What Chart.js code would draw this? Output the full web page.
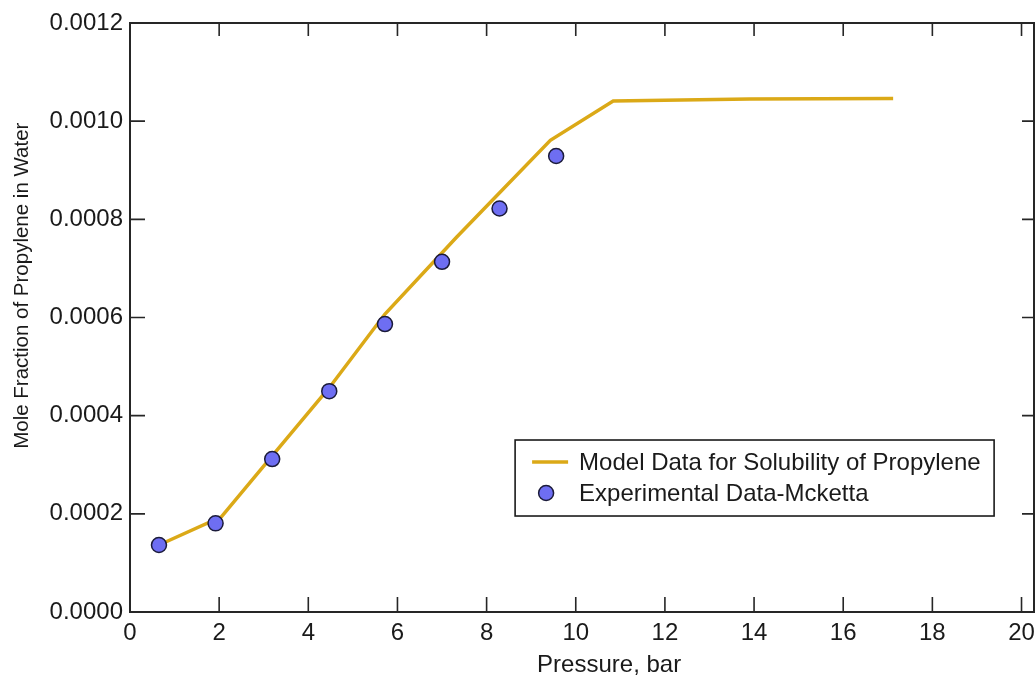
<!DOCTYPE html>
<html>
<head>
<meta charset="utf-8">
<script src="https://cdn.jsdelivr.net/npm/chart.js@4/dist/chart.umd.min.js"></script>
<style>
  html, body { margin: 0; padding: 0; background: #ffffff; overflow: hidden; }
  #wrap { width: 1035px; height: 679px; overflow: hidden; }
</style>
</head>
<body>
<div id="wrap"><canvas id="c" width="1043" height="679"></canvas></div>
<script>
// ---- data ----
const modelPressure = [0.65, 2.05, 3.19, 4.47, 5.72, 7.33, 9.43, 10.84, 13.9, 17.12];
const modelFraction = [0.0001365, 0.000194, 0.000318, 0.000457, 0.000607, 0.000764, 0.000961, 0.001041, 0.001045, 0.001046];
const expPressure = [0.65, 1.92, 3.19, 4.47, 5.72, 7.0, 8.29, 9.56];
const expFraction = [0.0001365, 0.0001806, 0.0003116, 0.00045, 0.0005866, 0.0007134, 0.000822, 0.000929];
const xTicks = [0, 2, 4, 6, 8, 10, 12, 14, 16, 18, 20];
const yTicks = [0, 0.0002, 0.0004, 0.0006, 0.0008, 0.0010, 0.0012];
const xTitle = 'Pressure, bar';
const yTitle = 'Mole Fraction of Propylene in Water';
const modelLabel = 'Model Data for Solubility of Propylene';
const expLabel = 'Experimental Data-Mcketta';

const FONT = "'Liberation Sans', Helvetica, Arial, sans-serif";
const GOLD = '#dba917';
const PT_FILL = '#6e6ef2';
const PT_EDGE = '#1b1b3a';
const AXIS = '#262626';

const toXY = (xs, ys) => xs.map((x, i) => ({ x: x, y: ys[i] }));

const framePlugin = {
  id: 'frame',
  afterDraw(chart) {
    const ctx = chart.ctx;
    const a = chart.chartArea;
    const xs = chart.scales.x, ys = chart.scales.y;
    ctx.save();
    ctx.strokeStyle = AXIS;
    ctx.lineWidth = 2;
    ctx.strokeRect(a.left, a.top, a.right - a.left, a.bottom - a.top);
    ctx.lineWidth = 1.6;
    ctx.beginPath();
    xs.ticks.forEach(t => {
      const px = xs.getPixelForValue(t.value);
      if (px <= a.left + 1) return;
      ctx.moveTo(px, a.bottom); ctx.lineTo(px, a.bottom - 15);
      ctx.moveTo(px, a.top); ctx.lineTo(px, a.top + 13);
    });
    ys.ticks.forEach(t => {
      const py = ys.getPixelForValue(t.value);
      if (py >= a.bottom - 1 || py <= a.top + 1) return;
      ctx.moveTo(a.left, py); ctx.lineTo(a.left + 15, py);
      ctx.moveTo(a.right, py); ctx.lineTo(a.right - 12, py);
    });
    ctx.stroke();

    // axis titles
    ctx.fillStyle = '#1a1a1a';
    ctx.font = '24px ' + FONT;
    ctx.textAlign = 'center';
    ctx.textBaseline = 'middle';
    ctx.fillText(xTitle, a.left + 0.53 * (a.right - a.left), 665);
    ctx.save();
    ctx.translate(22, a.top + 0.446 * (a.bottom - a.top));
    ctx.rotate(-Math.PI / 2);
    ctx.font = '20.5px ' + FONT;
    ctx.fillText(yTitle, 0, 0);
    ctx.restore();

    // legend
    const ds = chart.data.datasets;
    const lx = a.left + 0.426 * (a.right - a.left);
    const ly = a.top + 0.708 * (a.bottom - a.top);
    const lw = 479, lh = 76;
    ctx.fillStyle = '#ffffff';
    ctx.fillRect(lx, ly, lw, lh);
    ctx.strokeStyle = '#1a1a1a';
    ctx.lineWidth = 1.6;
    ctx.strokeRect(lx, ly, lw, lh);
    const line = ds.find(d => d.showLine);
    const pts = ds.find(d => !d.showLine);
    ctx.strokeStyle = line.borderColor;
    ctx.lineWidth = line.borderWidth;
    ctx.beginPath();
    ctx.moveTo(lx + 17, ly + 22); ctx.lineTo(lx + 53, ly + 22);
    ctx.stroke();
    ctx.beginPath();
    ctx.arc(lx + 31, ly + 53, pts.pointRadius, 0, Math.PI * 2);
    ctx.fillStyle = pts.backgroundColor;
    ctx.fill();
    ctx.strokeStyle = pts.borderColor;
    ctx.lineWidth = pts.borderWidth;
    ctx.stroke();
    ctx.fillStyle = '#1a1a1a';
    ctx.font = '24px ' + FONT;
    ctx.textAlign = 'left';
    ctx.textBaseline = 'middle';
    ctx.fillText(line.label, lx + 64, ly + 23);
    ctx.fillText(pts.label, lx + 64, ly + 54);
    ctx.restore();
  }
};

new Chart(document.getElementById('c'), {
  type: 'scatter',
  data: {
    datasets: [
      {
        label: modelLabel,
        data: toXY(modelPressure, modelFraction),
        showLine: true,
        borderColor: GOLD,
        backgroundColor: GOLD,
        borderWidth: 3.5,
        pointRadius: 0,
        tension: 0,
        order: 1
      },
      {
        label: expLabel,
        data: toXY(expPressure, expFraction),
        showLine: false,
        backgroundColor: PT_FILL,
        borderColor: PT_EDGE,
        borderWidth: 1.5,
        pointRadius: 7.5,
        pointHoverRadius: 7.5,
        order: 0
      }
    ]
  },
  options: {
    responsive: false,
    animation: false,
    events: [],
    layout: { padding: { top: 23, right: 0, left: 0, bottom: 0 } },
    plugins: { legend: { display: false }, tooltip: { enabled: false } },
    scales: {
      x: {
        type: 'linear',
        min: 0,
        max: 20.28,
        bounds: 'data',
        afterBuildTicks: s => { s.ticks = xTicks.map(v => ({ value: v })); },
        afterFit: s => { s.height = 67; },
        grid: { display: false, drawTicks: false },
        border: { display: false },
        ticks: {
          padding: 7,
          maxRotation: 0,
          autoSkip: false,
          color: '#1a1a1a',
          font: { family: FONT, size: 24 },
          callback: v => String(v)
        }
      },
      y: {
        type: 'linear',
        min: 0,
        max: 0.0012,
        bounds: 'data',
        afterBuildTicks: s => { s.ticks = yTicks.map(v => ({ value: v })); },
        afterFit: s => { s.width = 130; },
        grid: { display: false, drawTicks: false },
        border: { display: false },
        ticks: {
          padding: 7,
          autoSkip: false,
          color: '#1a1a1a',
          font: { family: FONT, size: 24 },
          callback: v => Number(v).toFixed(4)
        }
      }
    }
  },
  plugins: [framePlugin]
});
</script>
</body>
</html>
